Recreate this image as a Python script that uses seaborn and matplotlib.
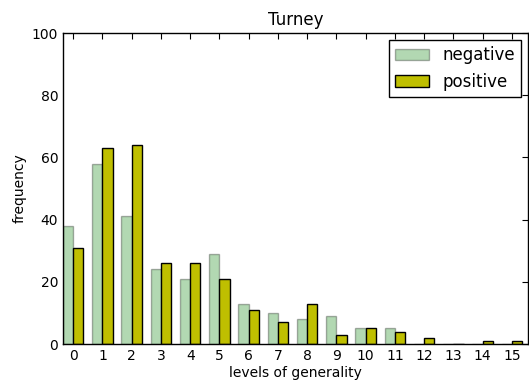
import pandas as pd
import matplotlib.pyplot as plt
import seaborn as sns
from matplotlib.patches import Patch

# данные
levels = list(range(16))
negative = [38, 58, 41, 24, 21, 29, 13, 10, 8, 9, 5, 5, 0, 0, 0, 0]
positive = [31, 63, 64, 26, 26, 21, 11, 7, 13, 3, 5, 4, 2, 0, 1, 1]

df = pd.DataFrame({
    'level': levels * 2,
    'frequency': negative + positive,
    'label': ['negative'] * len(levels) + ['positive'] * len(levels),
})

sns.set_style('white')
plt.rcParams['font.family'] = ['DejaVu Sans']
plt.rcParams['xtick.direction'] = 'in'
plt.rcParams['ytick.direction'] = 'in'
plt.rcParams['text.color'] = 'black'
plt.rcParams['axes.labelcolor'] = 'black'
plt.rcParams['xtick.color'] = 'black'
plt.rcParams['ytick.color'] = 'black'

fig = plt.figure(figsize=(5.29, 3.83), dpi=100)
ax = fig.add_axes([63 / 529, 39 / 383, 465 / 529, 311 / 383])

sns.barplot(data=df, x='level', y='frequency', hue='label', ax=ax,
            palette={'negative': 'g', 'positive': 'y'}, width=0.7,
            saturation=1, legend=False)

# у negative прозрачность, у обоих чёрная обводка
for patch in ax.containers[0]:
    patch.set_alpha(0.3)
    patch.set_edgecolor('black')
    patch.set_linewidth(1)
for patch in ax.containers[1]:
    patch.set_edgecolor('black')
    patch.set_linewidth(1)

ax.set_xlim(-0.35, 15.55)
ax.set_ylim(0, 100)
ax.set_yticks([0, 20, 40, 60, 80, 100])
ax.tick_params(axis='both', which='both', top=True, right=True, length=4,
               width=0.8, labelsize=10, color='black')
for s in ax.spines.values():
    s.set_color('black')
    s.set_linewidth(1)

ax.set_title('Turney', fontsize=12)
ax.set_xlabel('levels of generality', fontsize=10, labelpad=2)
ax.set_ylabel('frequency', fontsize=10)

handles = [Patch(facecolor='g', alpha=0.3, edgecolor='black', label='negative'),
           Patch(facecolor='y', edgecolor='black', label='positive')]
leg = ax.legend(handles=handles, loc='upper right', fontsize=12, fancybox=False,
                framealpha=1, edgecolor='black', borderaxespad=0.4)
leg.get_frame().set_linewidth(1)

fig.savefig('out.png', dpi=100)
